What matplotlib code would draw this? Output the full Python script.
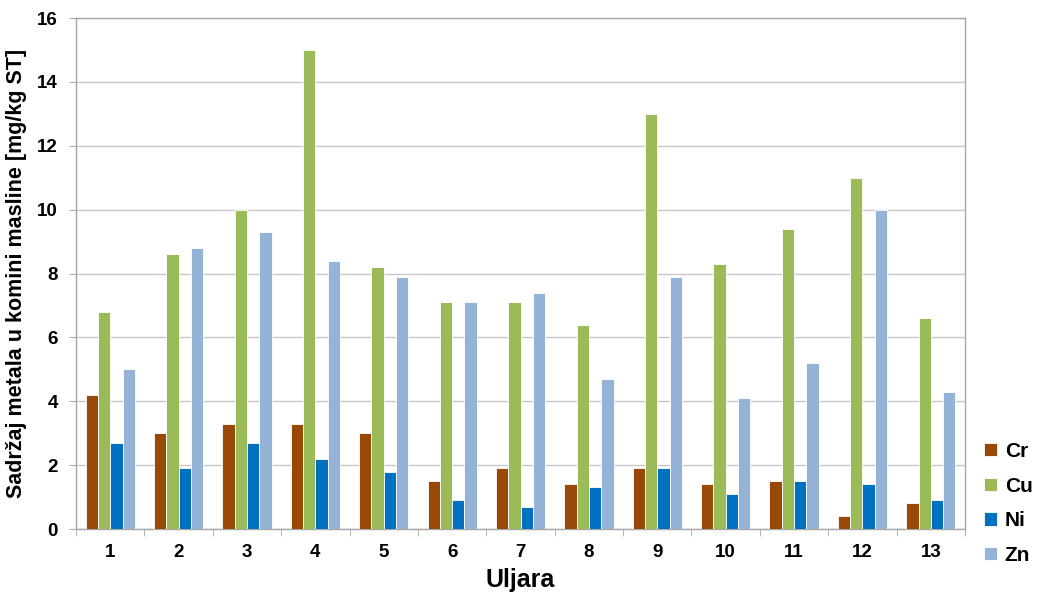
import matplotlib
matplotlib.use("Agg")
import matplotlib.pyplot as plt
import numpy as np

categories = ["1", "2", "3", "4", "5", "6", "7", "8", "9", "10", "11", "12", "13"]
cr = [4.2, 3.0, 3.3, 3.3, 3.0, 1.5, 1.9, 1.4, 1.9, 1.4, 1.5, 0.4, 0.8]
cu = [6.8, 8.6, 10.0, 15.0, 8.2, 7.1, 7.1, 6.4, 13.0, 8.3, 9.4, 11.0, 6.6]
ni = [2.7, 1.9, 2.7, 2.2, 1.8, 0.9, 0.7, 1.3, 1.9, 1.1, 1.5, 1.4, 0.9]
zn = [5.0, 8.8, 9.3, 8.4, 7.9, 7.1, 7.4, 4.7, 7.9, 4.1, 5.2, 10.0, 4.3]
series_names = ["Cr", "Cu", "Ni", "Zn"]
colors = ["#984807", "#9BBB59", "#0070C0", "#95B3D7"]

plt.rcParams['font.family'] = ['Liberation Sans', 'DejaVu Sans']

fig = plt.figure(figsize=(10.47, 5.97), dpi=100)
ax = fig.add_axes([0.0726, 0.1139, 0.8491, 0.8559])

x = np.arange(len(categories))
w = 0.18
for i, (vals, name, c) in enumerate(zip([cr, cu, ni, zn], series_names, colors)):
    ax.bar(x + (i - 1.5) * w, vals, width=w, color=c, label=name,
           edgecolor="white", linewidth=0.6, zorder=3)

ax.set_xlim(-0.5, len(categories) - 0.5)
ax.set_ylim(0, 16)
ax.set_yticks(np.arange(0, 17, 2))
ax.set_xticks(x)
ax.set_xticklabels(categories, fontsize=13.5, fontweight="bold")
ax.set_xticks(np.arange(-0.5, len(categories), 1), minor=True)
ax.tick_params(axis="x", which="major", length=0, pad=11)
ax.tick_params(axis="x", which="minor", length=5, color="#A6A6A6", direction="out")
ax.tick_params(axis="y", length=5, color="#A6A6A6", direction="out", pad=8)
for lab in ax.get_yticklabels():
    lab.set_fontweight("bold")
    lab.set_fontsize(13.5)

ax.yaxis.grid(True, color="#C8C8C8", linewidth=1.0, zorder=0)
ax.set_axisbelow(True)
for s in ax.spines.values():
    s.set_color("#A6A6A6")
    s.set_linewidth(1.0)

ax.set_xlabel("Uljara", fontsize=18, fontweight="bold", labelpad=5)
ax.set_ylabel("Sadržaj metala u komini masline [mg/kg ST]", fontsize=15.5,
              fontweight="bold", labelpad=7)

leg = ax.legend(loc="center left", bbox_to_anchor=(1.012, 0.05), frameon=False,
                prop={"weight": "bold", "size": 15}, handlelength=0.6,
                handleheight=0.6, handletextpad=0.4, labelspacing=0.75,
                borderaxespad=0)

fig.savefig("out.png", dpi=100, facecolor="white")
